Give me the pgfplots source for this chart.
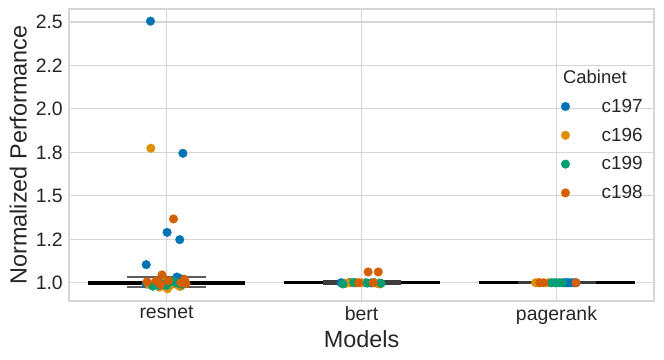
\documentclass[border=0pt]{standalone}
\usepackage{pgfplots}
\pgfplotsset{compat=1.18}
\usepackage{fontspec}
\setmainfont{Liberation Sans}
\definecolor{c197}{HTML}{0173B2}
\definecolor{c196}{HTML}{DE8F05}
\definecolor{c199}{HTML}{029E73}
\definecolor{c198}{HTML}{D55E00}
\definecolor{txt}{HTML}{262626}
\definecolor{gridc}{HTML}{D6D6D6}
\definecolor{capc}{HTML}{5C5C5C}
\definecolor{capd}{HTML}{3C3C3C}
\begin{document}
\begin{tikzpicture}
\begin{axis}[
    scale only axis, width=585bp, height=292bp,
    xmin=-0.5, xmax=2.5, ymin=0.895, ymax=2.575,
    xtick={0,1,2}, xticklabels={resnet,bert,pagerank},
    ytick={1,1.25,1.5,1.75,2,2.25,2.5},
    yticklabels={1.0,1.2,1.5,1.8,2.0,2.2,2.5},
    major tick length=0pt,
    grid=major, major grid style={draw=gridc, line width=1.1bp},
    axis line style={draw=gridc, line width=1.1bp},
    tick label style={font=\fontsize{19.5}{22}\selectfont, text=txt},
    xticklabel style={anchor=north, inner sep=0pt, yshift=-5bp},
    yticklabel style={anchor=east, inner sep=0pt, xshift=-6bp},
    xlabel={Models}, ylabel={Normalized Performance},
    label style={font=\fontsize{23.5}{26}\selectfont, text=txt},
    xlabel style={at={(axis description cs:0.5,-0.0993)}, anchor=north, inner sep=0pt},
    ylabel style={at={(axis description cs:-0.0718,0.5)}, anchor=south, inner sep=0pt},
    legend style={draw=none, fill=none, at={(rel axis cs:0.841,0.692)}, anchor=north west,
        inner sep=0pt, row sep=14.1bp, column sep=0pt,
        font=\fontsize{19}{22}\selectfont, text=txt, nodes={inner sep=0pt}},
    legend cell align=left,
    legend image code/.code={\path (-4bp,0bp) (36bp,0bp); \draw[#1] plot coordinates {(0bp,0bp)};},
    every axis plot/.append style={mark size=4.3bp},
]
% box elements
\addplot[forget plot, capc, line width=1.5bp] coordinates {(0,0.974) (0,1.031)};
\addplot[forget plot, black, line width=4.2bp] coordinates {(-0.4,0.999) (0.4,0.999)};
\addplot[forget plot, capc, line width=2.2bp] coordinates {(-0.2,1.031) (0.2,1.031)};
\addplot[forget plot, capc, line width=2.2bp] coordinates {(-0.2,0.974) (0.2,0.974)};
\addplot[forget plot, black, line width=3bp] coordinates {(0.6,1.0) (1.4,1.0)};
\addplot[forget plot, capd, line width=5bp] coordinates {(0.8,1.0) (1.2,1.0)};
\addplot[forget plot, black, line width=3bp] coordinates {(1.6,1.0) (2.4,1.0)};
\addplot[forget plot, capd, line width=3.4bp] coordinates {(1.8,1.0) (2.2,1.0)};
% points
\addplot[only marks, mark=*, color=c197] coordinates {
(-0.082,2.505) (0.084,1.745) (0.003,1.290) (0.068,1.248) (-0.104,1.104) (-0.105,0.993)
(0.005,1.000) (0.053,1.033) (0.073,1.023) (0.075,0.985) (-0.045,1.008) (0.030,0.995)
(0.895,1.000) (0.910,0.998) (0.940,1.002) (1.020,1.000) (1.050,0.999) (1.065,1.001) (0.970,1.000) (1.090,0.998)
(2.040,1.0) (2.060,1.0) (2.075,1.0) (2.090,1.0) (2.100,1.0) (2.050,1.0)};
\addlegendentry{c197}
\addplot[only marks, mark=*, color=c196] coordinates {
(-0.080,1.774) (-0.060,1.000) (0.015,0.981) (0.054,0.989) (-0.035,0.975) (0.005,0.965)
(0.090,0.995) (-0.090,0.990) (0.035,1.005) (-0.015,0.998) (0.070,0.978)
(0.920,0.997) (0.970,0.999) (1.000,1.000) (1.080,0.996) (1.095,0.993) (0.945,1.000)
(1.893,1.0) (1.960,1.0) (1.905,1.0)};
\addlegendentry{c196}
\addplot[only marks, mark=*, color=c199] coordinates {
(-0.040,0.985) (0.000,0.985) (0.040,1.004) (-0.070,0.980) (0.060,0.997) (0.020,1.010)
(-0.020,0.992) (0.080,0.990)
(0.905,0.993) (1.100,0.997) (1.030,0.998) (0.960,1.001)
(1.975,1.0) (1.990,1.0) (2.000,1.0) (2.015,1.0) (2.030,1.0)};
\addlegendentry{c199}
\addplot[only marks, mark=*, color=c198] coordinates {
(0.036,1.367) (-0.023,1.045) (0.092,1.020) (-0.053,1.010) (0.074,1.000) (-0.100,1.005)
(0.010,1.012) (0.100,0.995) (-0.030,0.990)
(1.034,1.062) (1.086,1.062) (0.985,1.000) (1.060,1.000)
(1.915,1.0) (1.935,1.0) (2.100,1.0)};
\addlegendentry{c198}
\node[anchor=west, font=\fontsize{18.5}{21}\selectfont, text=txt, inner sep=0pt]
    at (rel axis cs:0.8444,0.767) {Cabinet};
\end{axis}
\pgfresetboundingbox
\path ([shift={(-69bp,-59bp)}]current axis.south west) rectangle ([shift={(10bp,9bp)}]current axis.north east);
\end{tikzpicture}
\end{document}
